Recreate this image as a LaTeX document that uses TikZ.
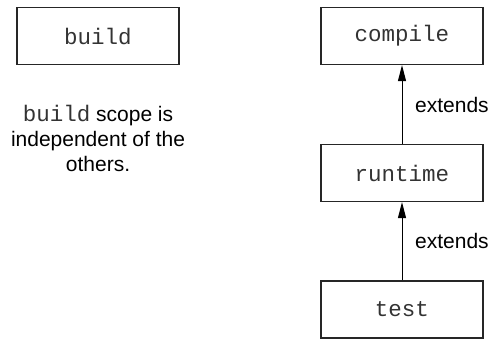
\documentclass[tikz,border=0pt]{standalone}
\usepackage{fontspec}
\setmainfont{Liberation Sans}
\setmonofont{Liberation Mono}
\usetikzlibrary{arrows.meta}
\newcommand{\mymono}[1]{{\fontsize{22.5}{25}\selectfont\ttfamily\color{black!80}#1}}
\begin{document}
\begin{tikzpicture}[x=1pt,y=-1pt,
  scopebox/.style={draw=black!85,line width=1.2pt,minimum width=162pt,minimum height=57pt,inner sep=0pt,font=\fontsize{22.5}{25}\selectfont\ttfamily,text=black!80},
  lbl/.style={font=\fontsize{21}{25}\selectfont,inner sep=0pt},
  ext/.style={line width=1pt,-{Triangle[length=16pt,width=8pt]}}]
\useasboundingbox (0,0) rectangle (493,339);
\node[scopebox] (build) at (98,36) {build};
\node[scopebox] (compile) at (402,36) {compile};
\node[scopebox] (runtime) at (402,173) {runtime};
\node[scopebox] (test) at (402,309.5) {test};
\node[lbl,align=center] (note) at (98,138) {\mymono{build} scope is\\independent of the\\others.};
\draw[ext] (runtime.north) -- (compile.south);
\draw[ext] (test.north) -- (runtime.south);
\node[lbl,anchor=west] (e1) at (415,105) {extends};
\node[lbl,anchor=west] (e2) at (415,241) {extends};
\end{tikzpicture}
\end{document}
